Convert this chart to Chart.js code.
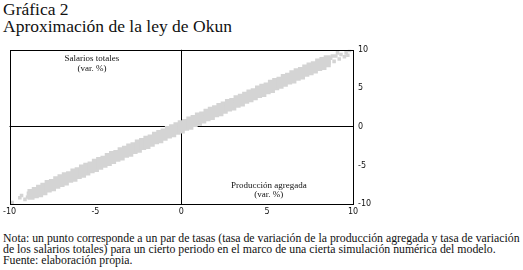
<!DOCTYPE html>
<html lang="es">
<head>
<meta charset="utf-8">
<script src="https://cdn.jsdelivr.net/npm/chart.js@4"></script>
<style>
    body {
        margin: 0;
        width: 523px;
        height: 270px;
        background: #fff;
        position: relative;
        overflow: hidden;
    }
    .titulo {
        position: absolute;
        left: 3px;
        top: 1px;
        font-family: "Liberation Serif", serif;
        font-size: 17.5px;
        line-height: 17px;
        color: #111;
    }
    .grafica {
        position: absolute;
        left: 0;
        top: 40px;
        width: 380px;
        height: 180px;
    }
    .nota {
        position: absolute;
        left: 3px;
        top: 233px;
        font-family: "Liberation Serif", serif;
        font-size: 11.8px;
        line-height: 11px;
        color: #111;
        white-space: nowrap;
    }
</style>
</head>
<body>
<div class="titulo">Gráfica 2<br>Aproximación de la ley de Okun</div>
<div class="grafica"><canvas id="js--okun"></canvas></div>
<div class="nota">Nota: un punto corresponde a un par de tasas (tasa de variación de la producción agregada y tasa de variación<br>de los salarios totales) para un cierto periodo en el marco de una cierta simulación numérica del modelo.<br>Fuente: elaboración propia.</div>

<script>
// tasas de variación (%)
const produccion = [-8.75, -8.5, -8.25, -8, -7.75, -7.5, -7.25, -7, -6.75, -6.5, -6.25, -6, -5.75, -5.5, -5.25, -5, -4.75, -4.5, -4.25,
    -4, -3.75, -3.5, -3.25, -3, -2.75, -2.5, -2.25, -2, -1.75, -1.5, -1.25, -1, -0.75, -0.5, -0.25,
    0, 0.25, 0.5, 0.75, 1, 1.25, 1.5, 1.75, 2, 2.25, 2.5, 2.75, 3, 3.25, 3.5, 3.75,
    4, 4.25, 4.5, 4.75, 5, 5.25, 5.5, 5.75, 6, 6.25, 6.5, 6.75, 7, 7.25, 7.5, 7.75, 8, 8.25, 8.5];

const salariosInf = [-9.0, -8.8, -8.65, -8.4, -8.05, -7.9, -7.55, -7.35, -7.15, -6.8, -6.65, -6.3, -6.15, -5.85, -5.55, -5.4, -5.1, -4.85, -4.6,
    -4.35, -4.05, -3.9, -3.55, -3.4, -3.05, -2.9, -2.55, -2.4, -2.1, -1.8, -1.65, -1.35, -1.05, -0.9, -0.55,
    -0.4, -0.05, 0.1, 0.45, 0.6, 0.9, 1.2, 1.35, 1.7, 1.85, 2.15, 2.45, 2.6, 2.95, 3.1, 3.45,
    3.65, 3.9, 4.2, 4.35, 4.7, 4.85, 5.2, 5.4, 5.65, 5.95, 6.1, 6.45, 6.6, 6.95, 7.15, 7.4, 7.7, 7.85, 8.2];

const salariosSup = [-8.5, -8.25, -7.95, -7.7, -7.35, -7.2, -6.85, -6.6, -6.35, -6.2, -5.85, -5.7, -5.35, -5.1, -4.95, -4.6, -4.35, -4.2, -3.85,
    -3.6, -3.45, -3.1, -2.9, -2.6, -2.45, -2.1, -1.9, -1.6, -1.45, -1.1, -0.85, -0.65, -0.35, -0.1, 0.15,
    0.4, 0.55, 0.9, 1.1, 1.4, 1.55, 1.9, 2.15, 2.35, 2.65, 2.85, 3.15, 3.3, 3.65, 3.85, 4.1,
    4.4, 4.55, 4.9, 5.15, 5.3, 5.65, 5.9, 6.05, 6.4, 6.55, 6.9, 7.15, 7.3, 7.65, 7.9, 8.05, 8.4, 8.6, 8.85];

// puntos sueltos en los extremos
const sueltosX = [-9.85, -9.4, -9.3, -9.1, -8.9, -8.95, 8.6, 8.7, 8.9, 9.0, 9.1, 9.2, 9.3, 9.5, 9.6, 9.8, 9.7, 8.8];
const sueltosY = [-9.8, -9.2, -8.9, -9.4, -8.6, -9.1, 8.3, 8.9, 8.5, 9.2, 9.6, 8.8, 9.4, 9.1, 9.6, 9.9, 9.3, 9.2];

const ticksEjes = [-10, -5, 0, 5, 10];

const gris = "rgb(212,212,212)";
const fuenteSerif = "'Liberation Serif', serif";

const puntos = (xs, ys) => xs.map((x, i) => ({ x: x, y: ys[i] }));

// marco de la grafica y rotulos de los ejes
const marco = {
    id: "marco",
    afterDraw(chart) {
        const ctx = chart.ctx;
        const area = chart.chartArea;
        const sx = chart.scales.x;
        const sy = chart.scales.y;
        ctx.save();
        ctx.strokeStyle = "#000";
        ctx.lineWidth = 1;
        ctx.strokeRect(Math.round(area.left) + 0.5, Math.round(area.top) + 0.5,
            Math.round(area.right - area.left), Math.round(area.bottom - area.top));

        ctx.fillStyle = "#111";
        ctx.font = "9px " + fuenteSerif;
        ctx.textAlign = "center";
        ctx.textBaseline = "middle";
        ctx.fillText("Salarios totales", sx.getPixelForValue(-5.2), sy.getPixelForValue(8.8));
        ctx.fillText("(var. %)", sx.getPixelForValue(-5.2), sy.getPixelForValue(7.6));
        ctx.fillText("Producción agregada", sx.getPixelForValue(5.1), sy.getPixelForValue(-7.6));
        ctx.fillText("(var. %)", sx.getPixelForValue(5.1), sy.getPixelForValue(-8.8));
        ctx.restore();
    }
};

const lineaCero = (ctx) => (ctx.tick && ctx.tick.value === 0 ? "#000" : "rgba(0,0,0,0)");

const config = {
    type: "scatter",
    data: {
        datasets: [
            {
                label: "banda inferior",
                data: puntos(produccion, salariosInf),
                backgroundColor: gris,
                borderWidth: 0,
                pointStyle: "rect",
                pointRadius: 5
            },
            {
                label: "banda superior",
                data: puntos(produccion, salariosSup),
                backgroundColor: gris,
                borderWidth: 0,
                pointStyle: "rect",
                pointRadius: 5
            },
            {
                label: "sueltos",
                data: puntos(sueltosX, sueltosY),
                backgroundColor: gris,
                borderWidth: 0,
                pointStyle: "rect",
                pointRadius: 2.5
            }
        ]
    },
    options: {
        responsive: true,
        maintainAspectRatio: false,
        animation: false,
        layout: { padding: { left: 8, top: 9, right: 0, bottom: 0 } },
        plugins: {
            legend: { display: false },
            tooltip: { enabled: false }
        },
        scales: {
            x: {
                type: "linear",
                min: -10,
                max: 10,
                afterBuildTicks: (scale) => { scale.ticks = ticksEjes.map((v) => ({ value: v })); },
                afterFit: (scale) => { scale.height = 16; },
                border: { display: false },
                grid: { color: lineaCero, lineWidth: 1, drawTicks: false },
                ticks: {
                    padding: 3,
                    color: "#111",
                    maxRotation: 0,
                    font: { family: "'DejaVu Sans', sans-serif", size: 8 }
                }
            },
            y: {
                type: "linear",
                position: "right",
                min: -10,
                max: 10,
                afterBuildTicks: (scale) => { scale.ticks = ticksEjes.map((v) => ({ value: v })); },
                afterFit: (scale) => { scale.width = 27; },
                border: { display: false },
                grid: { color: lineaCero, lineWidth: 1, drawTicks: false },
                ticks: {
                    padding: 5,
                    color: "#111",
                    font: { family: "'DejaVu Sans', sans-serif", size: 8 }
                }
            }
        }
    },
    plugins: [marco]
};

const graph = new Chart(document.getElementById("js--okun"), config);
</script>
</body>
</html>
